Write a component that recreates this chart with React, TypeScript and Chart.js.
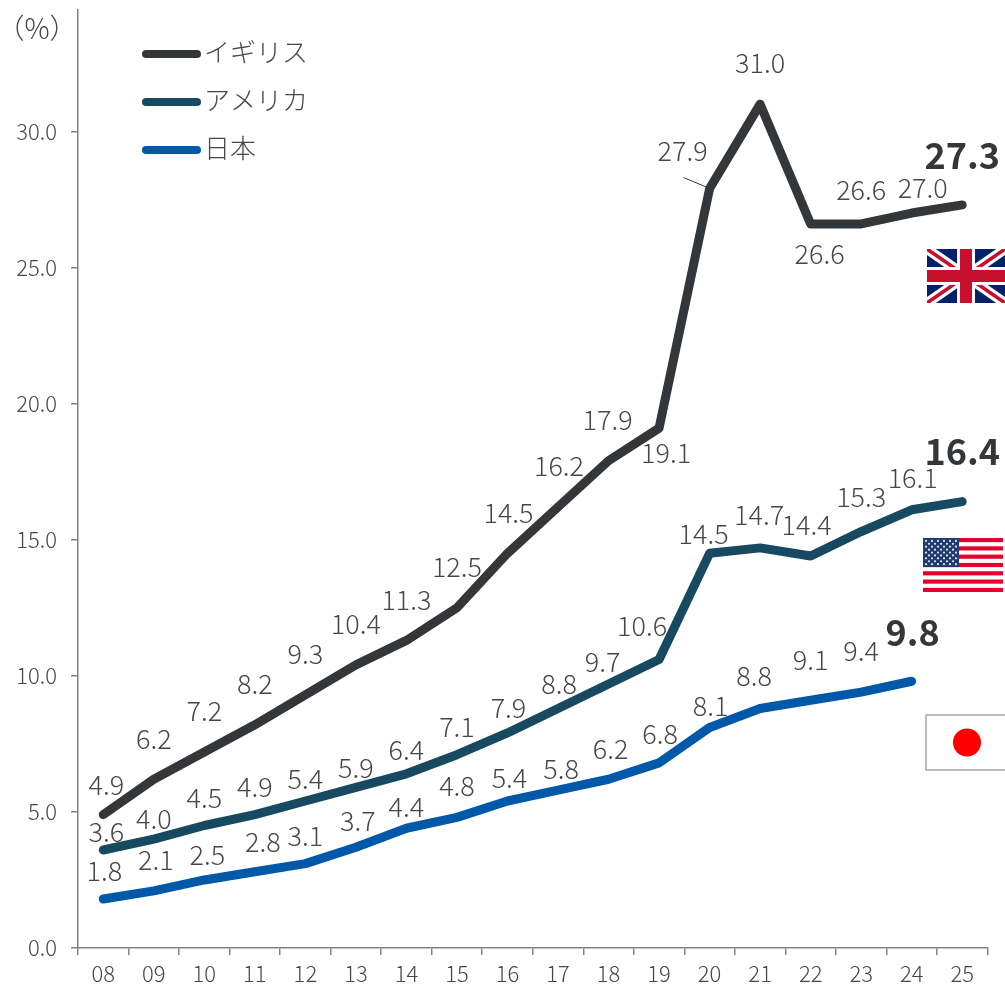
import React, { useEffect, useRef } from "react";
import { Chart, registerables } from "chart.js";

Chart.register(...registerables);

const years = ["08","09","10","11","12","13","14","15","16","17","18","19","20","21","22","23","24","25"];
const ukValues = [4.9,6.2,7.2,8.2,9.3,10.4,11.3,12.5,14.5,16.2,17.9,19.1,27.9,31.0,26.6,26.6,27.0,27.3];
const usValues = [3.6,4.0,4.5,4.9,5.4,5.9,6.4,7.1,7.9,8.8,9.7,10.6,14.5,14.7,14.4,15.3,16.1,16.4];
const jpValues = [1.8,2.1,2.5,2.8,3.1,3.7,4.4,4.8,5.4,5.8,6.2,6.8,8.1,8.8,9.1,9.4,9.8,null];

const seriesNames = ["イギリス", "アメリカ", "日本"];
const seriesColors = ["#33373a", "#174a60", "#0058a8"];

// Label placement relative to each point, in pixels.
const ukLabelOffsets = [[3,-30],[0,-41],[0,-41],[0,-41],[0,-41],[0,-41],[0,-41],[0,-41],[1,-41],[1,-41],[-1,-41],[7,25],[-27,-38],[0,-41],[9,30],[0,-34],[11,-25],[0,-50]];
const usLabelOffsets = [[3,-18],[0,-20],[0,-28],[0,-28],[0,-22],[0,-20],[0,-24],[0,-28],[1,-25],[1,-25],[-6,-22],[-17,-34],[-6,-20],[-1,-33],[-4,-31],[0,-35],[1,-32],[0,-50]];
const jpLabelOffsets = [[1,-28],[2,-31],[3,-25],[8,-30],[0,-28],[2,-27],[0,-21],[0,-32],[2,-23],[3,-21],[2,-31],[1,-29],[1,-22],[-6,-33],[0,-41],[0,-41],[1,-49]];
const labelOffsets = [ukLabelOffsets, usLabelOffsets, jpLabelOffsets];

const emphasized = [[0, 17], [1, 17], [2, 16]];

const FONT = '"Noto Sans CJK JP", "Noto Sans", sans-serif';
const TEXT = "#474747";
const AXIS = "#7f8388";

const valueLabels = {
  id: "valueLabels",
  afterDatasetsDraw(chart: any) {
    const { ctx } = chart;
    ctx.save();
    ctx.textAlign = "center";
    ctx.textBaseline = "middle";
    chart.data.datasets.forEach((ds: any, s: number) => {
      const meta = chart.getDatasetMeta(s);
      ds.data.forEach((v: number | null, i: number) => {
        if (v === null) return;
        const pt = meta.data[i];
        const [dx, dy] = labelOffsets[s][i];
        const strong = emphasized.some(([a, b]) => a === s && b === i);
        ctx.font = strong ? `700 36px ${FONT}` : `300 27px ${FONT}`;
        ctx.fillStyle = strong ? "#33373a" : TEXT;
        ctx.fillText(v.toFixed(1), pt.x + dx, pt.y + dy);
      });
    });
    // Leader from the 2020 UK label to its point
    const p = chart.getDatasetMeta(0).data[12];
    ctx.strokeStyle = "#33373a";
    ctx.lineWidth = 1;
    ctx.beginPath();
    ctx.moveTo(p.x - 26, p.y - 11);
    ctx.lineTo(p.x - 2, p.y - 1);
    ctx.stroke();
    ctx.restore();
  },
};

const sideLegend = {
  id: "sideLegend",
  afterDraw(chart: any) {
    const { ctx } = chart;
    ctx.save();
    seriesNames.forEach((name, i) => {
      const y = 54 + i * 48;
      ctx.strokeStyle = seriesColors[i];
      ctx.lineWidth = 8;
      ctx.lineCap = "round";
      ctx.beginPath();
      ctx.moveTo(146, y);
      ctx.lineTo(197, y);
      ctx.stroke();
      ctx.fillStyle = TEXT;
      ctx.font = `300 26px ${FONT}`;
      ctx.textAlign = "left";
      ctx.textBaseline = "middle";
      ctx.fillText(name, 204, y - 2);
    });
    ctx.font = `300 28px ${FONT}`;
    ctx.textAlign = "center";
    ctx.fillStyle = TEXT;
    ctx.fillText("（%）", 37, 28);
    ctx.restore();
  },
};

function drawUK(ctx: CanvasRenderingContext2D, x: number, y: number, w: number, h: number) {
  ctx.save();
  ctx.beginPath();
  ctx.rect(x, y, w, h);
  ctx.clip();
  ctx.fillStyle = "#012169";
  ctx.fillRect(x, y, w, h);
  const diag = (color: string, lw: number) => {
    ctx.strokeStyle = color;
    ctx.lineWidth = lw;
    ctx.beginPath();
    ctx.moveTo(x, y);
    ctx.lineTo(x + w, y + h);
    ctx.moveTo(x + w, y);
    ctx.lineTo(x, y + h);
    ctx.stroke();
  };
  diag("#ffffff", 10);
  diag("#c8102e", 3.5);
  ctx.fillStyle = "#ffffff";
  ctx.fillRect(x + w / 2 - 9, y, 18, h);
  ctx.fillRect(x, y + h / 2 - 9, w, 18);
  ctx.fillStyle = "#c8102e";
  ctx.fillRect(x + w / 2 - 6, y, 12, h);
  ctx.fillRect(x, y + h / 2 - 6, w, 12);
  ctx.restore();
}

function drawUS(ctx: CanvasRenderingContext2D, x: number, y: number, w: number, h: number) {
  ctx.save();
  ctx.fillStyle = "#ffffff";
  ctx.fillRect(x, y, w, h);
  const stripe = h / 13;
  ctx.fillStyle = "#e4002b";
  for (let i = 0; i < 13; i += 2) ctx.fillRect(x, y + i * stripe, w, stripe);
  const cw = w * 0.45;
  const ch = stripe * 7;
  ctx.fillStyle = "#1f3a6e";
  ctx.fillRect(x, y, cw, ch);
  ctx.fillStyle = "#dfe6f0";
  for (let r = 0; r < 9; r++) {
    const cols = r % 2 === 0 ? 6 : 5;
    for (let c = 0; c < cols; c++) {
      const sx = x + (cw / 12) * (r % 2 === 0 ? 2 * c + 1 : 2 * c + 2);
      const sy = y + (ch / 10) * (r + 1);
      ctx.beginPath();
      ctx.arc(sx, sy, 1.1, 0, Math.PI * 2);
      ctx.fill();
    }
  }
  ctx.restore();
}

function drawJP(ctx: CanvasRenderingContext2D, x: number, y: number, w: number, h: number) {
  ctx.save();
  ctx.fillStyle = "#ffffff";
  ctx.fillRect(x, y, w, h);
  ctx.strokeStyle = "#a6a6a6";
  ctx.lineWidth = 1.5;
  ctx.strokeRect(x, y, w, h);
  ctx.fillStyle = "#ff0000";
  ctx.beginPath();
  ctx.arc(x + w / 2, y + h / 2, 14, 0, Math.PI * 2);
  ctx.fill();
  ctx.restore();
}

const flags = {
  id: "flags",
  afterDraw(chart: any) {
    const { ctx } = chart;
    drawUK(ctx, 927, 249, 78, 54);
    drawUS(ctx, 923, 538, 80, 54);
    drawJP(ctx, 926, 715, 82, 55);
  },
};

// The plot rectangle is fixed, so the scales reserve no extra room for tick label overhang.
const fixAxisSize = (size: { width?: number; height?: number }) => (s: any) => {
  if (size.width) s.width = size.width;
  if (size.height) s.height = size.height;
  s.paddingTop = 0;
  s.paddingBottom = 0;
  s.paddingLeft = 0;
  s.paddingRight = 0;
};

export default function App() {
  const ref = useRef<HTMLCanvasElement>(null);

  useEffect(() => {
    const chart = new Chart(ref.current!, {
      type: "line",
      data: {
        labels: years,
        datasets: [ukValues, usValues, jpValues].map((data, i) => ({
          label: seriesNames[i],
          data,
          borderColor: seriesColors[i],
          borderWidth: 9,
          borderCapStyle: "round",
          borderJoinStyle: "round",
          pointRadius: 0,
          tension: 0,
          clip: false,
        })),
      } as any,
      options: {
        animation: false,
        responsive: false,
        layout: { padding: { left: 0, right: 17.5, top: 10, bottom: 0 } },
        plugins: { legend: { display: false }, tooltip: { enabled: false } },
        scales: {
          x: {
            offset: true,
            afterFit: fixAxisSize({ height: 39 }),
            border: { color: AXIS, width: 1.5 },
            grid: { offset: true, drawOnChartArea: false, color: AXIS, tickLength: 7, lineWidth: 1.5 },
            ticks: { color: TEXT, padding: 5, maxRotation: 0, autoSkip: false, font: { family: FONT, size: 22, weight: "300" } },
          },
          y: {
            min: 0,
            max: 34.46,
            afterFit: fixAxisSize({ width: 78 }),
            border: { color: AXIS, width: 1.5 },
            grid: { drawOnChartArea: false, color: AXIS, tickLength: 7, lineWidth: 1.5 },
            ticks: {
              stepSize: 5,
              includeBounds: false,
              color: TEXT,
              padding: 14,
              callback: (v: any) => Number(v).toFixed(1),
              font: { family: FONT, size: 22, weight: "300" },
            },
          },
        },
      } as any,
      plugins: [valueLabels, sideLegend, flags],
    });
    return () => chart.destroy();
  }, []);

  return (
    <div style={{ position: "absolute", left: 0, top: 0, width: 1005, height: 987, background: "#fff" }}>
      <canvas ref={ref} width={1005} height={987} style={{ display: "block" }} />
    </div>
  );
}
